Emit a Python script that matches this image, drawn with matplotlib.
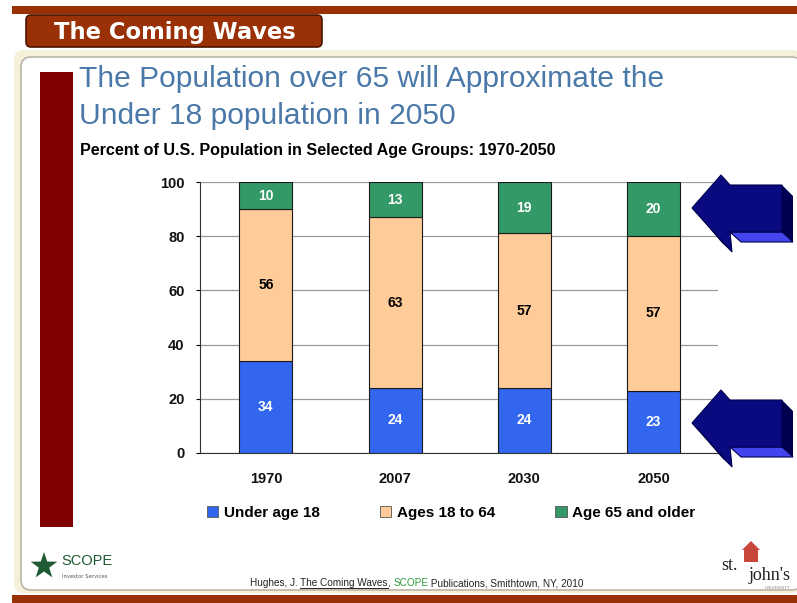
import matplotlib
matplotlib.use("Agg")
import matplotlib.pyplot as plt
import numpy as np
from matplotlib.patches import FancyBboxPatch, Rectangle, Polygon

years = ["1970", "2007", "2030", "2050"]
under_18 = [34, 24, 24, 23]
ages_18_64 = [56, 63, 57, 57]
over_65 = [10, 13, 19, 20]
series_names = ["Under age 18", "Ages 18 to 64", "Age 65 and older"]
series_colors = ["#3366ee", "#ffcc99", "#339966"]
label_colors = ["white", "black", "white"]

brown = "#9a3005"
W, H = 797, 603

fig = plt.figure(figsize=(W / 100, H / 100), dpi=100)
fig.patch.set_facecolor("white")

# background layer in pixel coordinates
bg = fig.add_axes([0, 0, 1, 1])
bg.set_xlim(0, W)
bg.set_ylim(H, 0)
bg.axis("off")

# top rule and bottom rule
bg.add_patch(Rectangle((12, 6), W - 12, 8, color=brown, lw=0))
bg.add_patch(Rectangle((12, 595), W - 12, 8, color=brown, lw=0))

# cream frame with white inner panel
bg.add_patch(FancyBboxPatch((14, 50), W - 10, 543, boxstyle="round,pad=0,rounding_size=10",
                            fc="#f4f0da", ec="none"))
bg.add_patch(FancyBboxPatch((21, 57), W - 16, 533, boxstyle="round,pad=0,rounding_size=10",
                            fc="white", ec="#b9b6a8", lw=1.2))

# title tab
bg.add_patch(FancyBboxPatch((26, 15), 296, 32, boxstyle="round,pad=0,rounding_size=5",
                            fc=brown, ec="#4a1600", lw=1.2))
bg.text(175, 32, "The Coming Waves", color="white", fontsize=16.3, fontweight="bold",
        family="DejaVu Sans", ha="center", va="center")

# dark red side bar
bg.add_patch(Rectangle((40, 72), 33, 455, color="#800000", lw=0))

# headings
bg.text(79, 79, "The Population over 65 will Approximate the", color="#4a78a8",
        fontsize=21.6, family="Liberation Sans", ha="left", va="center")
bg.text(79, 116, "Under 18 population in 2050", color="#4a78a8",
        fontsize=21.6, family="Liberation Sans", ha="left", va="center")
bg.text(80, 151, "Percent of U.S. Population in Selected Age Groups: 1970-2050", color="black",
        fontsize=11.6, fontweight="bold", family="Liberation Sans", ha="left", va="center")

# SCOPE logo
star_t = np.linspace(np.pi / 2, np.pi / 2 + 2 * np.pi, 11)[:-1]
star_r = np.where(np.arange(10) % 2 == 0, 14, 5.5)
star = [(44 + r * np.cos(t), 566 - r * np.sin(t)) for r, t in zip(star_r, star_t)]
bg.add_patch(Polygon(star, closed=True, fc="#1e5a32", ec="none"))
bg.text(61, 561, "SCOPE", color="#1e5a32", fontsize=10.5, family="Liberation Sans",
        ha="left", va="center")
bg.text(62, 576, "Investor Services", color="#555555", fontsize=3.8, ha="left", va="center")

# citation line
cite_parts = [("Hughes, J. ", "#222222", False), ("The Coming Waves", "#222222", True),
              (", ", "#222222", False), ("SCOPE", "#2e9a3a", False),
              (" Publications, Smithtown, NY, 2010", "#222222", False)]
x = 250
fig.canvas.draw()
renderer = fig.canvas.get_renderer()
inv = bg.transData.inverted()
for s, c, ul in cite_parts:
    t = bg.text(x, 583, s, color=c, fontsize=7.2, family="Liberation Sans",
                ha="left", va="center")
    bb = t.get_window_extent(renderer)
    (x0, y0), (x1, y1) = inv.transform([(bb.x0, bb.y0), (bb.x1, bb.y1)])
    if ul:
        bg.plot([x0, x1], [588, 588], color="#222222", lw=0.7)
    x = x1

# st. john's logo
bg.add_patch(Rectangle((744, 549), 14, 13, fc="#c8463c", ec="none"))
bg.add_patch(Polygon([(742, 550), (760, 550), (751, 541)], closed=True, fc="#c8463c", ec="none"))
bg.text(721, 565, "st.", color="#222222", fontsize=13, family="Liberation Serif",
        ha="left", va="center")
bg.text(791, 576, "john's", color="#222222", fontsize=13, family="Liberation Serif",
        ha="right", va="center")
bg.text(790, 588, "UNIVERSITY", color="#888888", fontsize=3.2, ha="right", va="center")

# stacked bar chart
ax = fig.add_axes([200 / W, 1 - 453 / H, 518 / W, 271 / H])
ax.patch.set_alpha(0)
x_pos = np.arange(len(years))
bottoms = np.zeros(len(years))
for vals, name, col, tc in zip([under_18, ages_18_64, over_65], series_names,
                               series_colors, label_colors):
    vals = np.array(vals, dtype=float)
    ax.bar(x_pos, vals, width=0.41, bottom=bottoms, color=col, edgecolor="#1a1a1a",
           linewidth=0.8, label=name, zorder=3)
    for xi, b, v in zip(x_pos, bottoms, vals):
        ax.text(xi, b + v / 2, f"{int(v)}", ha="center", va="center", color=tc,
                fontsize=10, fontweight="bold", family="Liberation Sans", zorder=4)
    bottoms += vals

ax.set_xlim(-0.51, 3.5)
ax.set_ylim(0, 100)
ax.set_yticks(range(0, 101, 20))
ax.set_xticks(x_pos)
ax.set_xticklabels(years)
ax.yaxis.grid(True, color="#999999", lw=0.9, zorder=0)
for sp in ["top", "right"]:
    ax.spines[sp].set_visible(False)
ax.spines["left"].set_color("#333333")
ax.spines["bottom"].set_color("#333333")
ax.tick_params(axis="y", length=3, pad=8, labelsize=10.5)
ax.tick_params(axis="x", length=0, pad=14, labelsize=10.5)
for lab in ax.get_xticklabels() + ax.get_yticklabels():
    lab.set_fontweight("bold")
    lab.set_family("Liberation Sans")
    lab.set_color("#111111")

leg = fig.legend(loc="center", bbox_to_anchor=(451 / W, 1 - 513 / H), ncol=3, frameon=False,
                 prop={"family": "Liberation Sans", "weight": "bold", "size": 11},
                 handlelength=0.75, handleheight=0.75, handletextpad=0.35, columnspacing=3.95)
for h in leg.legend_handles:
    h.set_edgecolor("#555555")
    h.set_linewidth(0.6)

# 3D arrows pointing at the 65+ and under-18 segments, drawn over the chart
top = fig.add_axes([0, 0, 1, 1])
top.set_xlim(0, W)
top.set_ylim(H, 0)
top.axis("off")

def draw_arrow(y0):
    side = [(782, y0 + 10), (793, y0 + 21), (793, y0 + 67), (782, y0 + 57)]
    bottom = [(730, y0 + 57), (782, y0 + 57), (793, y0 + 67), (741, y0 + 67)]
    head_shadow = [(692, y0 + 33), (730, y0 + 57), (732, y0 + 77), (722, y0 + 68)]
    body = [(692, y0 + 33), (721, y0), (730, y0 + 10), (782, y0 + 10),
            (782, y0 + 57), (730, y0 + 57), (732, y0 + 77)]
    top.add_patch(Polygon(side, closed=True, fc="#000050", ec="none"))
    top.add_patch(Polygon(bottom, closed=True, fc="#4444ee", ec="#000050", lw=0.8))
    top.add_patch(Polygon(head_shadow, closed=True, fc="#000040", ec="none"))
    top.add_patch(Polygon(body, closed=True, fc="#0a0a80", ec="#000050", lw=0.8))

draw_arrow(175)
draw_arrow(390)

fig.savefig("out.png", dpi=100)
